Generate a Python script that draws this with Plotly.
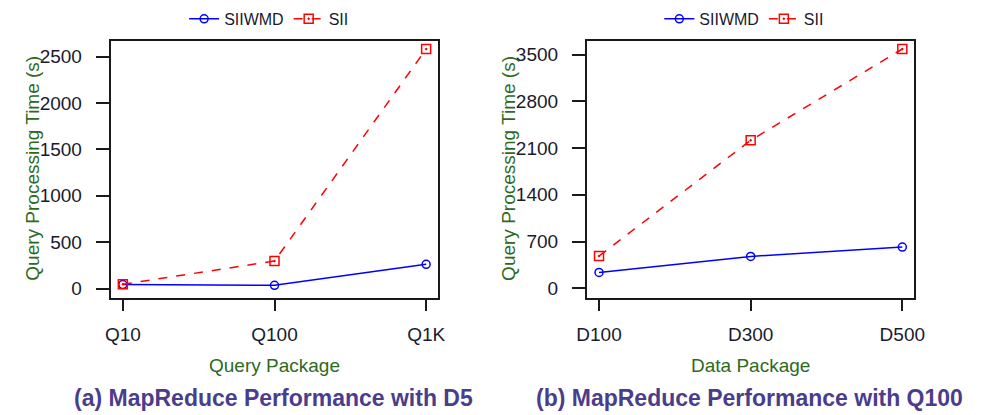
import plotly.graph_objects as go

query_packages = ["Q10", "Q100", "Q1K"]
siiwmd_a = [43, 35, 261]
sii_a = [46, 297, 2583]

data_packages = ["D100", "D300", "D500"]
siiwmd_b = [238, 477, 617]
sii_b = [483, 2216, 3583]

ticks_a = [0, 500, 1000, 1500, 2000, 2500]
ticks_b = [0, 700, 1400, 2100, 2800, 3500]

BLUE = "#0000ff"
RED = "#ff0000"
GREEN = "#2e6a1e"
TITLE = "#4a3d8c"
TICK = "#1a1a2e"
FONT = "Liberation Sans, Arial, sans-serif"

fig = go.Figure()

def add_pair(xcats, s1, s2, xa, ya, leg):
    fig.add_trace(go.Scatter(
        x=list(range(len(xcats))), y=s1, name="SIIWMD", mode="lines+markers",
        line=dict(color=BLUE, width=1.5),
        marker=dict(symbol="circle-open", size=8, color=BLUE, line=dict(width=1.5)),
        xaxis=xa, yaxis=ya, legend=leg))
    fig.add_trace(go.Scatter(
        x=list(range(len(xcats))), y=s2, name="SII", mode="lines+markers",
        line=dict(color=RED, width=1.5, dash="dash"),
        marker=dict(symbol="square-open-dot", size=9, color=RED, line=dict(width=1.5)),
        xaxis=xa, yaxis=ya, legend=leg))

add_pair(query_packages, siiwmd_a, sii_a, "x", "y", "legend")
add_pair(data_packages, siiwmd_b, sii_b, "x2", "y2", "legend2")

ydom = [1 - 299 / 415, 1 - 41 / 415]
xdom1 = [102 / 989, 437 / 989]
xdom2 = [589 / 989, 924 / 989]

common_x = dict(range=[-0.08, 2.08], showgrid=False, zeroline=False,
                showline=True, linecolor="#1a1a1a", linewidth=2, mirror=True,
                ticks="outside", ticklen=11, tickwidth=2, tickcolor="#1a1a1a",
                tickfont=dict(family=FONT, size=19, color=TICK),
                ticklabelstandoff=8, tickmode="array", tickvals=[0, 1, 2])
common_y = dict(showgrid=False, zeroline=False,
                showline=True, linecolor="#1a1a1a", linewidth=2, mirror=True,
                ticks="outside", ticklen=13, tickwidth=2, tickcolor="#1a1a1a",
                tickfont=dict(family=FONT, size=19, color=TICK),
                ticklabelstandoff=10, tickmode="array")

fig.update_layout(
    width=989, height=415,
    margin=dict(l=0, r=0, t=0, b=0),
    paper_bgcolor="white", plot_bgcolor="white",
    font=dict(family=FONT),
    xaxis=dict(domain=xdom1, anchor="y", ticktext=query_packages, **common_x),
    yaxis=dict(domain=ydom, anchor="x", range=[-97, 2672], tickvals=ticks_a,
               ticktext=[str(t) for t in ticks_a], **common_y),
    xaxis2=dict(domain=xdom2, anchor="y2", ticktext=data_packages, **common_x),
    yaxis2=dict(domain=ydom, anchor="x2", range=[-139, 3706], tickvals=ticks_b,
                ticktext=[str(t) for t in ticks_b], **common_y),
    legend=dict(orientation="h", x=264 / 989, xanchor="center",
                y=1 - 19 / 415, yanchor="middle", font=dict(family=FONT, size=16, color=TICK),
                itemwidth=30, bgcolor="rgba(0,0,0,0)"),
    legend2=dict(orientation="h", x=750 / 989, xanchor="center",
                 y=1 - 19 / 415, yanchor="middle", font=dict(family=FONT, size=16, color=TICK),
                 itemwidth=30, bgcolor="rgba(0,0,0,0)"),
)

ann = [
    dict(text="Query Processing Time (s)", x=22 / 989, y=1 - 169 / 415, textangle=-90,
         font=dict(size=19, color=GREEN)),
    dict(text="Query Processing Time (s)", x=508 / 989, y=1 - 169 / 415, textangle=-90,
         font=dict(size=19, color=GREEN)),
    dict(text="Query Package", x=(xdom1[0] + xdom1[1]) / 2, y=1 - 367 / 415,
         font=dict(size=19, color=GREEN)),
    dict(text="Data Package", x=(xdom2[0] + xdom2[1]) / 2, y=1 - 367 / 415,
         font=dict(size=19, color=GREEN)),
    dict(text="<b>(a) MapReduce Performance with D5</b>", x=268 / 989, y=1 - 400 / 415,
         font=dict(size=23, color=TITLE)),
    dict(text="<b>(b) MapReduce Performance with Q100</b>", x=755 / 989, y=1 - 400 / 415,
         font=dict(size=23, color=TITLE)),
]
for a in ann:
    a.update(xref="paper", yref="paper", showarrow=False, xanchor="center", yanchor="middle")
    a["font"]["family"] = FONT
    fig.add_annotation(**a)

fig.write_html("out.html", config={"displayModeBar": False},
               post_script="document.body.style.margin='0';document.body.style.overflow='hidden';")
